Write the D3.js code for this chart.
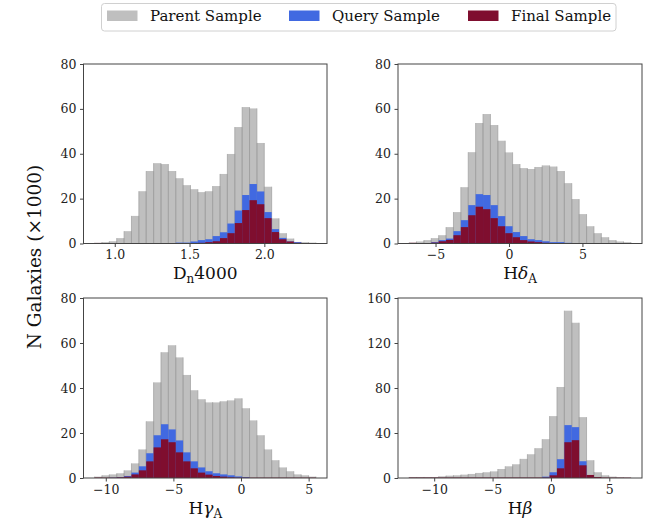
<!DOCTYPE html>
<html><head><meta charset="utf-8">
<script src="https://cdn.jsdelivr.net/npm/d3@7"></script>
<style>
html,body{margin:0;padding:0;background:#fff;}
svg{display:block;font-family:"DejaVu Serif",serif;}
</style></head>
<body>
<script>
// ---- data (N galaxies, thousands), 30 bins per panel ----
const panelNames = ["Dn4000", "HdA", "HgA", "Hb"];
const binRanges = [[0.865, 2.345], [-6.8, 8.3], [-10.83, 5.54], [-12.15, 6.85]];
const yMaxes = [80, 80, 80, 160];
const yTicks = [[0,20,40,60,80],[0,20,40,60,80],[0,20,40,60,80],[0,40,80,120,160]];
const xTicks = [[1.0,1.5,2.0],[-5,0,5],[-10,-5,0,5],[-10,-5,0,5]];
const xTickLabels = [["1.0","1.5","2.0"],["\u22125","0","5"],["\u221210","\u22125","0","5"],["\u221210","\u22125","0","5"]];

const parentDn4000 = [0.3,0.6,1.0,2.4,5.5,12.3,23.3,32.3,35.8,35.4,32.3,29.1,26.0,24.2,22.9,23.3,25.6,31.0,39.9,51.9,60.8,60.2,44.8,25.3,11.2,4.6,2.2,0.7,0.6,0.4];
const queryDn4000  = [0,0,0,0,0,0,0,0,0,0,0,0.4,0.4,0.9,1.5,1.9,3.3,5.0,8.9,14.7,21.6,26.5,23.2,14.0,6.4,2.5,0.9,0.6,0,0];
const finalDn4000  = [0.25,0.2,0,0,0,0,0,0,0,0,0,0,0,0.1,0.3,0.6,1.0,2.4,4.6,9.1,14.9,19.3,17.5,11.3,5.1,1.9,0.9,0.3,0,0];

const parentHdA = [0.4,0.9,1.5,2.4,3.7,7.3,14.0,25.1,40.7,53.7,57.7,52.8,45.8,40.6,35.4,33.6,33.2,34.1,34.8,34.3,32.3,26.9,19.8,13.1,7.7,4.6,2.8,1.5,0.9,0.6];
const queryHdA  = [0,0,0,0.6,1.5,2.2,5.5,10.4,17.1,22.0,21.6,17.1,12.2,7.7,5.1,3.3,1.9,1.5,1.0,0.6,0.6,0.3,0,0,0,0,0,0,0,0];
const finalHdA  = [0.3,0.2,0.2,0.4,1.0,1.6,3.7,7.3,12.6,16.4,15.3,11.3,7.7,4.6,2.8,1.5,0.9,0.6,0.3,0.15,0.15,0.15,0.15,0.15,0.15,0.15,0.15,0.15,0.15,0.15];

const parentHgA = [0.6,1.2,1.6,2.1,3.4,6.5,12.7,25.2,42.5,55.9,59.0,53.6,45.8,39.0,35.0,33.6,33.6,34.1,34.5,35.4,31.0,25.6,19.0,12.7,7.9,4.7,3.0,1.6,1.2,0.6];
const queryHgA  = [0,0,0.15,0.4,0.9,2.4,5.2,11.0,19.0,23.9,21.6,16.7,11.4,7.4,4.7,3.0,2.1,1.6,1.2,0.7,0.4,0,0,0,0,0,0,0,0,0];
const finalHgA  = [0.2,0.15,0.15,0.3,0.6,1.6,3.4,7.4,13.6,17.2,15.9,11.4,7.4,4.3,2.4,1.5,0.9,0.6,0.3,0.15,0.15,0.15,0.15,0.15,0.15,0.15,0.15,0.15,0.15,0.15];

const parentHb = [0.9,0.9,0.9,0.9,1.5,2.1,2.4,3.0,3.6,4.5,5.1,5.9,8.0,10.4,12.2,17.0,21.1,26.5,34.5,55.0,80.9,148.7,138.0,54.1,15.8,5.1,2.4,1.2,0.6,0.3];
const queryHb  = [0,0,0,0,0,0,0,0,0,0,0,0,0,0,0,0,0,0,1.2,5.1,16.7,47.0,45.2,14.9,2.1,0.6,0,0,0,0];
const finalHb  = [0.4,0.4,0.4,0.4,0.4,0.4,0.4,0.4,0.4,0.4,0.4,0.4,0.4,0.4,0.4,0.4,0.4,0.4,0.4,2.4,8.6,31.8,33.6,11.3,2.7,0.9,0.4,0.3,0.3,0.3];

const seriesNames = ["Parent Sample", "Query Sample", "Final Sample"];
const panelSeries = [
  [parentDn4000, queryDn4000, finalDn4000],
  [parentHdA, queryHdA, finalHdA],
  [parentHgA, queryHgA, finalHgA],
  [parentHb, queryHb, finalHb]
];

// ---- styles / layout ----
const colors = ["#bfbfbf", "#4169e1", "#7f0e2f"];
const W = 657, H = 519;
const boxes = [
  {x0: 83.5, x1: 327, y0: 64, y1: 243.5},
  {x0: 398, x1: 642, y0: 64, y1: 243.5},
  {x0: 83.5, x1: 327, y0: 298, y1: 478},
  {x0: 398, x1: 642, y0: 298, y1: 478}
];
const FONT = "'DejaVu Serif', serif";

const svg = d3.select("body").append("svg").attr("width", W).attr("height", H);

panelSeries.forEach((series, p) => {
  const b = boxes[p];
  const [lo, hi] = binRanges[p];
  const pad = (hi - lo) * 0.05;
  const x = d3.scaleLinear().domain([lo - pad, hi + pad]).range([b.x0, b.x1]);
  const y = d3.scaleLinear().domain([0, yMaxes[p]]).range([b.y1, b.y0]);
  const nb = series[0].length;
  const edges = d3.range(nb + 1).map(i => lo + (hi - lo) * i / nb);
  const g = svg.append("g");

  series.forEach((vals, s) => {
    const bars = vals.map((v, i) => ({v, a: edges[i], b: edges[i + 1]})).filter(d => d.v > 0);
    g.append("g").selectAll("rect").data(bars).join("rect")
      .attr("x", d => x(d.a))
      .attr("width", d => x(d.b) - x(d.a))
      .attr("y", d => y(d.v))
      .attr("height", d => y(0) - y(d.v))
      .attr("fill", colors[s]);
    if (s === 0) {
      g.append("g").selectAll("path").data(bars).join("path")
        .attr("d", d => `M${x(d.a)},${y(d.v)}V${y(0)}M${x(d.b)},${y(d.v)}V${y(0)}`)
        .attr("stroke", "#9e9e9e").attr("stroke-width", 0.7).attr("fill", "none");
    }
  });

  // frame
  g.append("rect").attr("x", b.x0).attr("y", b.y0)
    .attr("width", b.x1 - b.x0).attr("height", b.y1 - b.y0)
    .attr("fill", "none").attr("stroke", "#444").attr("stroke-width", 1);

  const xa = g.append("g").attr("transform", `translate(0,${b.y1})`)
    .call(d3.axisBottom(x).tickValues(xTicks[p])
      .tickFormat((d, i) => xTickLabels[p][i]).tickSize(3.5).tickPadding(3.5));
  const ya = g.append("g").attr("transform", `translate(${b.x0},0)`)
    .call(d3.axisLeft(y).tickValues(yTicks[p]).tickSize(3.5).tickPadding(3.5));
  [xa, ya].forEach(a => {
    a.select(".domain").remove();
    a.selectAll(".tick line").attr("stroke", "#444");
    a.selectAll(".tick text").attr("fill", "#222").style("font-family", FONT).style("font-size", "12.5px");
  });
});

// x labels
function xlabel(cx, baseline, parts) {
  const t = svg.append("text").attr("x", cx).attr("y", baseline)
    .attr("text-anchor", "middle").style("font-family", FONT)
    .style("font-size", "17px").attr("fill", "#111");
  parts.forEach(pt => {
    const ts = t.append("tspan").text(pt.t);
    if (pt.sub) ts.style("font-size", "12px").attr("dy", pt.dy);
    else if (pt.dy) ts.attr("dy", pt.dy);
    if (pt.it) ts.style("font-style", "italic");
  });
}
const cxL = (boxes[0].x0 + boxes[0].x1) / 2, cxR = (boxes[1].x0 + boxes[1].x1) / 2;
xlabel(cxL, 279, [{t: "D"}, {t: "n", sub: true, dy: 3.5}, {t: "4000", dy: -3.5}]);
xlabel(cxR, 279, [{t: "H"}, {t: "\u03b4", it: true}, {t: "A", sub: true, dy: 3.5}]);
xlabel(cxL, 514, [{t: "H"}, {t: "\u03b3", it: true}, {t: "A", sub: true, dy: 3.5}]);
xlabel(cxR, 514, [{t: "H"}, {t: "\u03b2", it: true}]);

// y label
svg.append("text").attr("transform", "translate(41,257) rotate(-90)")
  .attr("text-anchor", "middle").style("font-family", FONT).style("font-size", "18.5px")
  .attr("fill", "#111").text("N Galaxies (\u00d71000)");

// legend
const leg = svg.append("g");
leg.append("rect").attr("x", 101.5).attr("y", 3.5).attr("width", 514.5).attr("height", 27.5)
  .attr("rx", 3).attr("fill", "#fff").attr("stroke", "#d0d0d0").attr("stroke-width", 1);
const legX = [107, 289, 468];
seriesNames.forEach((n, i) => {
  leg.append("rect").attr("x", legX[i]).attr("y", 10.5).attr("width", 30.5).attr("height", 10.5).attr("fill", colors[i]);
  leg.append("text").attr("x", legX[i] + 43).attr("y", 21).style("font-family", FONT)
    .style("font-size", "15px").attr("fill", "#111").text(n);
});
</script>
</body></html>
